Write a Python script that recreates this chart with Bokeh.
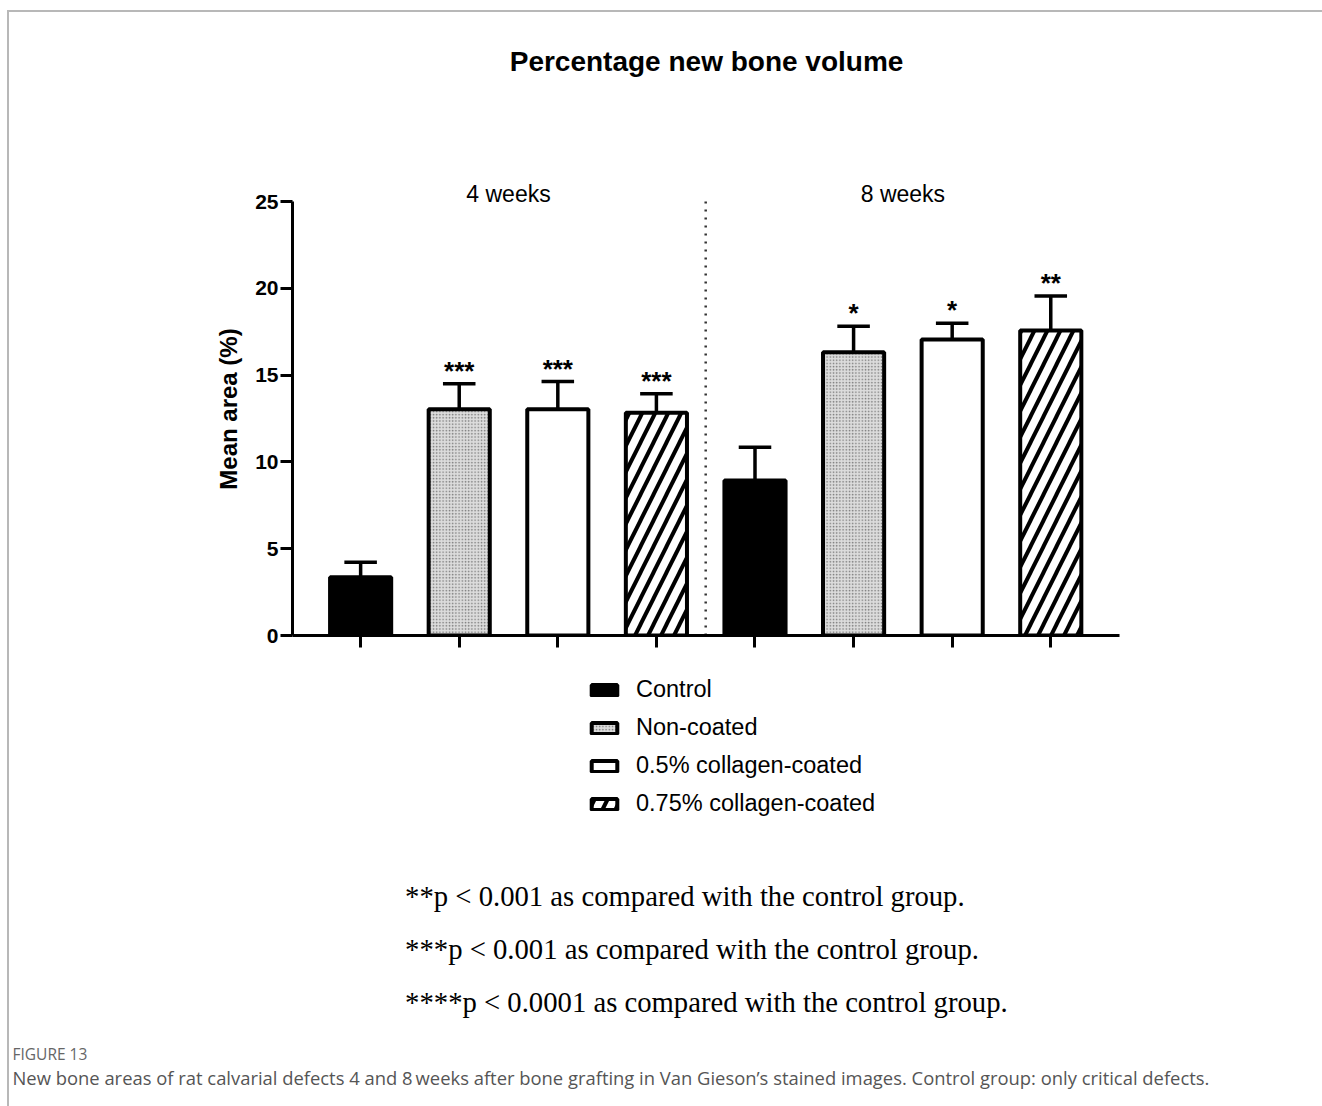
from bokeh.plotting import figure
from bokeh.models import (Range1d, FixedTicker, Label, Legend, LegendItem, ColumnDataSource)
from bokeh.core.properties import value
from bokeh.embed import file_html
from bokeh.resources import INLINE

# ---------------- data ----------------
groups = ["4 weeks", "8 weeks"]
conditions = ["Control", "Non-coated", "0.5% collagen-coated", "0.75% collagen-coated"]
mean_4w = [3.36, 13.04, 13.04, 12.83]
sem_4w = [0.86, 1.46, 1.59, 1.09]
mean_8w = [8.93, 16.32, 17.05, 17.57]
sem_8w = [1.92, 1.50, 0.94, 1.98]
stars_4w = ["", "***", "***", "***"]
stars_8w = ["", "*", "*", "**"]
y_ticks = [0, 5, 10, 15, 20, 25]
footnotes = ["**p < 0.001 as compared with the control group.",
             "***p < 0.001 as compared with the control group.",
             "****p < 0.0001 as compared with the control group."]
caption_head = "FIGURE 13"
caption_text = ("New bone areas of rat calvarial defects 4 and 8\u2009weeks after bone grafting "
                "in Van Gieson\u2019s stained images. Control group: only critical defects.")
title_text = "Percentage new bone volume"

# ---------------- layout constants (page pixels) ----------------
W, H = 1322, 1106
OX, OY = 9, 12             # content origin inside the page rule lines
BW = 2                     # rule width (part of each figure box)
AX_L, AX_B = 292, 635      # y-axis line x, x-axis line y
X0, DX = 360, 98.4         # first bar centre and bar pitch
Y_PX = 17.36               # pixels per unit on the y axis
F_TOP = 182                # top of the chart frame
F1_BOTTOM = 657            # bottom edge of the chart figure
RULE = f"{BW}px solid #b8b8b8"


def blank_fig(top, bottom, extra_h=0):
    f = figure(width=W - OX + BW, height=bottom - top + extra_h, output_backend="svg",
               toolbar_location=None, title=None, x_axis_type=None, y_axis_type=None,
               x_range=Range1d(OX, W), y_range=Range1d(bottom, top),
               min_border_left=0, min_border_right=0, min_border_top=0, min_border_bottom=0)
    f.outline_line_color = None
    f.grid.visible = False
    f.background_fill_color = "white"
    f.border_fill_color = "white"
    return f


# ---------------- top figure: title ----------------
t = blank_fig(OY, F_TOP, extra_h=BW)
t.styles = {"margin-left": "7px", "margin-top": "10px", "border-left": RULE, "border-top": RULE}
t.add_layout(Label(x=705, y=60, text=title_text, text_align="center", text_baseline="middle",
                   text_font="Liberation Sans", text_font_style="bold", text_font_size="28px",
                   text_color="black"))

# ---------------- main chart figure ----------------
x_lo = (AX_L - X0) / DX
x_hi = x_lo + (W - AX_L) / DX
y_hi = (AX_B - F_TOP) / Y_PX
p = figure(width=W - OX + BW, height=F1_BOTTOM - F_TOP, output_backend="svg",
           toolbar_location=None, title=None, x_range=Range1d(x_lo, x_hi),
           y_range=Range1d(0, y_hi),
           min_border_left=AX_L - OX, min_border_right=0,
           min_border_top=0, min_border_bottom=F1_BOTTOM - AX_B)
p.styles = {"margin-left": "7px", "border-left": RULE}
p.outline_line_color = None
p.grid.visible = False
p.background_fill_color = "white"
p.border_fill_color = "white"

xa = p.xaxis[0]
xa.ticker = FixedTicker(ticks=[], minor_ticks=list(range(8)))
xa.bounds = (x_lo, 7.70)
xa.axis_line_width = 3
xa.axis_line_color = "black"
xa.minor_tick_line_width = 3
xa.minor_tick_line_color = "black"
xa.minor_tick_out = 12
xa.minor_tick_in = 0
xa.major_tick_line_color = None

ya = p.yaxis[0]
ya.ticker = FixedTicker(ticks=y_ticks, minor_ticks=[])
ya.bounds = (y_ticks[0], y_ticks[-1])
ya.axis_line_width = 3
ya.axis_line_color = "black"
ya.major_tick_line_width = 3
ya.major_tick_out = 12
ya.major_tick_in = 0
ya.minor_tick_line_color = None
ya.major_label_text_font = "Liberation Sans"
ya.major_label_text_font_style = "bold"
ya.major_label_text_font_size = "21px"
ya.major_label_text_color = "black"
ya.major_label_standoff = 2
ya.axis_label = "Mean area (%)"
ya.axis_label_text_font = "Liberation Sans"
ya.axis_label_text_font_style = "bold"
ya.axis_label_text_font_size = "24px"
ya.axis_label_text_color = "black"
ya.axis_label_standoff = 10

fills = ["black", "#dcdcdc", "white", "white"]
hatches = [None, "dot", None, "right_diagonal_line"]
hatch_scales = [12, 3.2, 12, 26]
hatch_weights = [1, 1.2, 1, 4]
hatch_colors = ["black", "#7a7a7a", "black", "black"]


def bar_style(i):
    kw = dict(fill_color=fills[i], line_color="black", line_width=4)
    if hatches[i]:
        kw.update(hatch_pattern=hatches[i], hatch_scale=hatch_scales[i],
                  hatch_weight=hatch_weights[i], hatch_color=hatch_colors[i])
    return kw


sources = []
for i, cond in enumerate(conditions):
    xs = [0 * 4 + i, 1 * 4 + i]
    tops = [mean_4w[i], mean_8w[i]]
    errs = [mean_4w[i] + sem_4w[i], mean_8w[i] + sem_8w[i]]
    data = dict(x=xs, top=tops, err=errs,
                l=[x - 0.165 for x in xs], r=[x + 0.165 for x in xs])
    sources.append(data)
    src = ColumnDataSource(data)
    p.segment(x0="x", y0="top", x1="x", y1="err", source=src, line_color="black", line_width=3.5)
    p.segment(x0="l", y0="err", x1="r", y1="err", source=src, line_color="black", line_width=3.5)
    p.vbar(x="x", top="top", bottom=0, width=0.62, source=src, **bar_style(i))

# significance stars
sx, sy, st = [], [], []
for gi, (means, sems, stars) in enumerate([(mean_4w, sem_4w, stars_4w), (mean_8w, sem_8w, stars_8w)]):
    for i in range(4):
        if stars[i]:
            sx.append(gi * 4 + i)
            sy.append(means[i] + sems[i])
            st.append(stars[i])
p.text(x=sx, y=sy, text=st, text_align="center", text_baseline="middle",
       y_offset=-13, text_font=value("Liberation Sans"), text_font_size="26px",
       text_font_style="bold", text_color="black")

# dotted divider between the two time points
p.segment(x0=[3.5], y0=[y_ticks[0]], x1=[3.5], y1=[y_ticks[-1]], line_color="#333333",
          line_width=2.5, line_dash="2 6")

# group labels
for gi, g in enumerate(groups):
    p.add_layout(Label(x=gi * 4 + 1.5, y=AX_B - 193, x_units="data", y_units="screen", text=g,
                       text_align="center", text_baseline="middle",
                       text_font="Liberation Sans", text_font_size="23px", text_color="black"))

# ---------------- lower figure: legend, footnotes, caption ----------------
q = blank_fig(F1_BOTTOM, H)
q.styles = {"margin-left": "7px", "border-left": RULE}

# legend proxies: same bars, not drawn on this canvas (only their legend swatches are)
leg_renderers = []
for i, cond in enumerate(conditions):
    r = q.vbar(x="x", top="top", bottom=0, width=0.62, source=ColumnDataSource(sources[i]),
               **bar_style(i))
    r.visible = False
    leg_renderers.append(r)

items = [LegendItem(label=c, renderers=[r]) for c, r in zip(conditions, leg_renderers)]
legend = Legend(items=items, location=(588 - OX, H - 817), orientation="vertical",
                glyph_width=32, glyph_height=14, label_standoff=16, spacing=11,
                padding=0, margin=0, border_line_color=None, background_fill_alpha=0,
                label_text_font="Liberation Sans", label_text_font_size="23.5px",
                label_text_color="black", label_height=20, click_policy="none",
                inactive_fill_alpha=0)
q.add_layout(legend)

for k, txt in enumerate(footnotes):
    q.add_layout(Label(x=404, y=895 + 53 * k, text=txt, text_align="left", text_baseline="middle",
                       text_font="Liberation Serif", text_font_size="28.7px", text_color="black"))

q.add_layout(Label(x=12, y=1053, text=caption_head, text_align="left", text_baseline="middle",
                   text_font="Open Sans", text_font_size="15.5px", text_color="#666666"))
q.add_layout(Label(x=12, y=1077, text=caption_text, text_align="left", text_baseline="middle",
                   text_font="Open Sans", text_font_size="18.4px", text_color="#555555"))

open("out.html", "w").write(file_html([t, p, q], INLINE))
